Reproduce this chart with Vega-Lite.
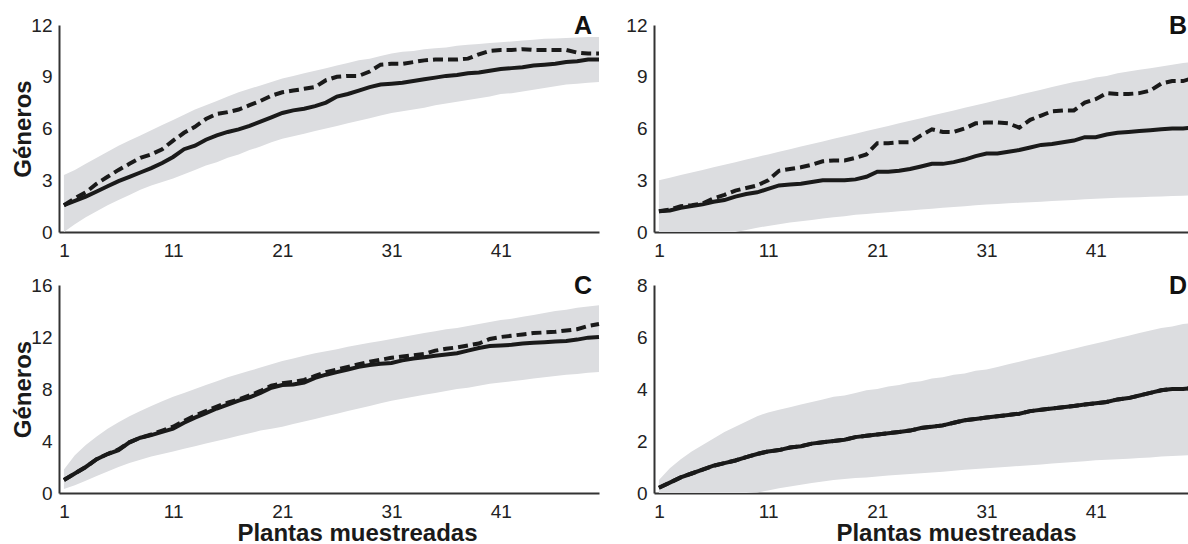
{
"$schema": "https://vega.github.io/schema/vega-lite/v6.json",
"padding": {"left": 11, "top": 14, "right": 0, "bottom": 0},
"background": "white",
"config": {
  "view": {"stroke": null},
  "axis": {"domainColor": "#333333", "domainWidth": 2, "ticks": false, "grid": false, "labelFont": "Liberation Sans", "labelFontSize": 19, "labelColor": "#222222", "titleFont": "Liberation Sans", "titleFontSize": 24, "titleFontWeight": "bold", "titleColor": "#1a1a1a"},
  "axisY": {"labelPadding": 7},
  "axisX": {"labelPadding": 9},
  "title": {"font": "Liberation Sans", "fontSize": 25, "fontWeight": "bold", "color": "#111111", "anchor": "end", "frame": "group", "baseline": "alphabetic", "offset": -23, "dx": -7}
},
"data": {"values": [
{"p":"A","n":1,"lo":0,"hi":3.3,"obs":1.55,"est":1.55},
{"p":"A","n":2,"lo":0.45,"hi":3.6,"obs":1.8,"est":1.95},
{"p":"A","n":3,"lo":0.85,"hi":3.95,"obs":2.05,"est":2.3},
{"p":"A","n":4,"lo":1.2,"hi":4.3,"obs":2.35,"est":2.8},
{"p":"A","n":5,"lo":1.55,"hi":4.65,"obs":2.65,"est":3.2},
{"p":"A","n":6,"lo":1.85,"hi":5.0,"obs":2.95,"est":3.6},
{"p":"A","n":7,"lo":2.15,"hi":5.3,"obs":3.2,"est":3.95},
{"p":"A","n":8,"lo":2.45,"hi":5.6,"obs":3.45,"est":4.3},
{"p":"A","n":9,"lo":2.7,"hi":5.9,"obs":3.7,"est":4.5},
{"p":"A","n":10,"lo":2.9,"hi":6.2,"obs":4.0,"est":4.8},
{"p":"A","n":11,"lo":3.1,"hi":6.5,"obs":4.35,"est":5.3},
{"p":"A","n":12,"lo":3.35,"hi":6.8,"obs":4.8,"est":5.75},
{"p":"A","n":13,"lo":3.6,"hi":7.1,"obs":5.0,"est":6.1},
{"p":"A","n":14,"lo":3.85,"hi":7.35,"obs":5.35,"est":6.55},
{"p":"A","n":15,"lo":4.05,"hi":7.6,"obs":5.6,"est":6.85},
{"p":"A","n":16,"lo":4.3,"hi":7.85,"obs":5.8,"est":6.95},
{"p":"A","n":17,"lo":4.5,"hi":8.1,"obs":5.95,"est":7.1},
{"p":"A","n":18,"lo":4.75,"hi":8.3,"obs":6.15,"est":7.35},
{"p":"A","n":19,"lo":4.95,"hi":8.5,"obs":6.4,"est":7.6},
{"p":"A","n":20,"lo":5.2,"hi":8.7,"obs":6.65,"est":7.9},
{"p":"A","n":21,"lo":5.4,"hi":8.9,"obs":6.9,"est":8.1},
{"p":"A","n":22,"lo":5.55,"hi":9.05,"obs":7.05,"est":8.2},
{"p":"A","n":23,"lo":5.7,"hi":9.2,"obs":7.15,"est":8.3},
{"p":"A","n":24,"lo":5.85,"hi":9.35,"obs":7.3,"est":8.4},
{"p":"A","n":25,"lo":6.0,"hi":9.5,"obs":7.5,"est":8.8},
{"p":"A","n":26,"lo":6.15,"hi":9.65,"obs":7.85,"est":9.0},
{"p":"A","n":27,"lo":6.3,"hi":9.8,"obs":8.0,"est":9.05},
{"p":"A","n":28,"lo":6.45,"hi":9.95,"obs":8.2,"est":9.05},
{"p":"A","n":29,"lo":6.6,"hi":10.05,"obs":8.4,"est":9.3},
{"p":"A","n":30,"lo":6.75,"hi":10.2,"obs":8.55,"est":9.7},
{"p":"A","n":31,"lo":6.9,"hi":10.35,"obs":8.6,"est":9.75},
{"p":"A","n":32,"lo":7.0,"hi":10.45,"obs":8.65,"est":9.75},
{"p":"A","n":33,"lo":7.1,"hi":10.5,"obs":8.75,"est":9.85},
{"p":"A","n":34,"lo":7.2,"hi":10.6,"obs":8.85,"est":9.95},
{"p":"A","n":35,"lo":7.35,"hi":10.65,"obs":8.95,"est":10.0},
{"p":"A","n":36,"lo":7.45,"hi":10.7,"obs":9.05,"est":10.0},
{"p":"A","n":37,"lo":7.55,"hi":10.8,"obs":9.1,"est":10.0},
{"p":"A","n":38,"lo":7.65,"hi":10.85,"obs":9.2,"est":10.05},
{"p":"A","n":39,"lo":7.75,"hi":10.9,"obs":9.25,"est":10.3},
{"p":"A","n":40,"lo":7.85,"hi":10.95,"obs":9.35,"est":10.5},
{"p":"A","n":41,"lo":8.0,"hi":11.0,"obs":9.45,"est":10.55},
{"p":"A","n":42,"lo":8.05,"hi":11.05,"obs":9.5,"est":10.55},
{"p":"A","n":43,"lo":8.15,"hi":11.1,"obs":9.55,"est":10.6},
{"p":"A","n":44,"lo":8.25,"hi":11.15,"obs":9.65,"est":10.55},
{"p":"A","n":45,"lo":8.35,"hi":11.2,"obs":9.7,"est":10.55},
{"p":"A","n":46,"lo":8.45,"hi":11.22,"obs":9.75,"est":10.55},
{"p":"A","n":47,"lo":8.55,"hi":11.25,"obs":9.85,"est":10.55},
{"p":"A","n":48,"lo":8.6,"hi":11.28,"obs":9.9,"est":10.4},
{"p":"A","n":49,"lo":8.65,"hi":11.3,"obs":10.0,"est":10.35},
{"p":"A","n":50,"lo":8.7,"hi":11.3,"obs":10.0,"est":10.35},
{"p":"B","n":1,"lo":0,"hi":3.0,"obs":1.2,"est":1.2},
{"p":"B","n":2,"lo":0,"hi":3.15,"obs":1.25,"est":1.3},
{"p":"B","n":3,"lo":0,"hi":3.3,"obs":1.4,"est":1.5},
{"p":"B","n":4,"lo":0,"hi":3.45,"obs":1.5,"est":1.55},
{"p":"B","n":5,"lo":0,"hi":3.6,"obs":1.6,"est":1.65},
{"p":"B","n":6,"lo":0,"hi":3.75,"obs":1.75,"est":1.95},
{"p":"B","n":7,"lo":0,"hi":3.9,"obs":1.85,"est":2.15},
{"p":"B","n":8,"lo":0,"hi":4.05,"obs":2.05,"est":2.4},
{"p":"B","n":9,"lo":0.12,"hi":4.2,"obs":2.2,"est":2.55},
{"p":"B","n":10,"lo":0.25,"hi":4.35,"obs":2.3,"est":2.7},
{"p":"B","n":11,"lo":0.35,"hi":4.5,"obs":2.5,"est":3.0},
{"p":"B","n":12,"lo":0.45,"hi":4.65,"obs":2.7,"est":3.55},
{"p":"B","n":13,"lo":0.55,"hi":4.8,"obs":2.75,"est":3.65},
{"p":"B","n":14,"lo":0.62,"hi":4.95,"obs":2.8,"est":3.75},
{"p":"B","n":15,"lo":0.7,"hi":5.1,"obs":2.9,"est":3.9},
{"p":"B","n":16,"lo":0.78,"hi":5.25,"obs":3.0,"est":4.1},
{"p":"B","n":17,"lo":0.85,"hi":5.4,"obs":3.0,"est":4.15},
{"p":"B","n":18,"lo":0.92,"hi":5.55,"obs":3.0,"est":4.15},
{"p":"B","n":19,"lo":1.0,"hi":5.7,"obs":3.05,"est":4.3},
{"p":"B","n":20,"lo":1.05,"hi":5.85,"obs":3.2,"est":4.5},
{"p":"B","n":21,"lo":1.1,"hi":6.0,"obs":3.5,"est":5.15},
{"p":"B","n":22,"lo":1.15,"hi":6.15,"obs":3.5,"est":5.15},
{"p":"B","n":23,"lo":1.2,"hi":6.3,"obs":3.55,"est":5.2},
{"p":"B","n":24,"lo":1.25,"hi":6.45,"obs":3.65,"est":5.2},
{"p":"B","n":25,"lo":1.3,"hi":6.6,"obs":3.8,"est":5.6},
{"p":"B","n":26,"lo":1.35,"hi":6.75,"obs":3.95,"est":5.95},
{"p":"B","n":27,"lo":1.4,"hi":6.9,"obs":3.95,"est":5.8},
{"p":"B","n":28,"lo":1.45,"hi":7.05,"obs":4.05,"est":5.8},
{"p":"B","n":29,"lo":1.5,"hi":7.2,"obs":4.2,"est":6.0},
{"p":"B","n":30,"lo":1.55,"hi":7.35,"obs":4.4,"est":6.3},
{"p":"B","n":31,"lo":1.6,"hi":7.5,"obs":4.55,"est":6.35},
{"p":"B","n":32,"lo":1.63,"hi":7.65,"obs":4.55,"est":6.35},
{"p":"B","n":33,"lo":1.66,"hi":7.8,"obs":4.65,"est":6.3},
{"p":"B","n":34,"lo":1.7,"hi":7.95,"obs":4.75,"est":6.05},
{"p":"B","n":35,"lo":1.73,"hi":8.1,"obs":4.9,"est":6.5},
{"p":"B","n":36,"lo":1.76,"hi":8.25,"obs":5.05,"est":6.75},
{"p":"B","n":37,"lo":1.8,"hi":8.4,"obs":5.1,"est":7.0},
{"p":"B","n":38,"lo":1.83,"hi":8.55,"obs":5.2,"est":7.05},
{"p":"B","n":39,"lo":1.86,"hi":8.7,"obs":5.3,"est":7.05},
{"p":"B","n":40,"lo":1.9,"hi":8.8,"obs":5.5,"est":7.5},
{"p":"B","n":41,"lo":1.93,"hi":8.95,"obs":5.5,"est":7.7},
{"p":"B","n":42,"lo":1.96,"hi":9.05,"obs":5.65,"est":8.05},
{"p":"B","n":43,"lo":1.98,"hi":9.2,"obs":5.75,"est":8.0},
{"p":"B","n":44,"lo":2.0,"hi":9.3,"obs":5.8,"est":8.0},
{"p":"B","n":45,"lo":2.02,"hi":9.4,"obs":5.85,"est":8.05},
{"p":"B","n":46,"lo":2.04,"hi":9.5,"obs":5.9,"est":8.2},
{"p":"B","n":47,"lo":2.06,"hi":9.6,"obs":5.95,"est":8.6},
{"p":"B","n":48,"lo":2.08,"hi":9.7,"obs":6.0,"est":8.75},
{"p":"B","n":49,"lo":2.1,"hi":9.8,"obs":6.0,"est":8.75},
{"p":"B","n":50,"lo":2.12,"hi":9.85,"obs":6.05,"est":8.95},
{"p":"C","n":1,"lo":0.3,"hi":1.8,"obs":1.0,"est":1.0},
{"p":"C","n":2,"lo":0.6,"hi":2.9,"obs":1.5,"est":1.5},
{"p":"C","n":3,"lo":0.95,"hi":3.7,"obs":2.0,"est":2.0},
{"p":"C","n":4,"lo":1.3,"hi":4.35,"obs":2.6,"est":2.6},
{"p":"C","n":5,"lo":1.65,"hi":4.95,"obs":3.0,"est":3.0},
{"p":"C","n":6,"lo":2.0,"hi":5.45,"obs":3.3,"est":3.35},
{"p":"C","n":7,"lo":2.3,"hi":5.9,"obs":3.9,"est":3.9},
{"p":"C","n":8,"lo":2.55,"hi":6.3,"obs":4.25,"est":4.25},
{"p":"C","n":9,"lo":2.8,"hi":6.7,"obs":4.45,"est":4.5},
{"p":"C","n":10,"lo":3.0,"hi":7.05,"obs":4.7,"est":4.8},
{"p":"C","n":11,"lo":3.2,"hi":7.4,"obs":4.95,"est":5.1},
{"p":"C","n":12,"lo":3.4,"hi":7.7,"obs":5.4,"est":5.55},
{"p":"C","n":13,"lo":3.6,"hi":8.0,"obs":5.8,"est":5.95},
{"p":"C","n":14,"lo":3.8,"hi":8.3,"obs":6.15,"est":6.3},
{"p":"C","n":15,"lo":4.0,"hi":8.6,"obs":6.5,"est":6.65},
{"p":"C","n":16,"lo":4.2,"hi":8.9,"obs":6.8,"est":6.95},
{"p":"C","n":17,"lo":4.4,"hi":9.15,"obs":7.1,"est":7.2},
{"p":"C","n":18,"lo":4.6,"hi":9.4,"obs":7.35,"est":7.5},
{"p":"C","n":19,"lo":4.8,"hi":9.65,"obs":7.7,"est":7.85},
{"p":"C","n":20,"lo":4.95,"hi":9.9,"obs":8.1,"est":8.25},
{"p":"C","n":21,"lo":5.1,"hi":10.15,"obs":8.3,"est":8.45},
{"p":"C","n":22,"lo":5.3,"hi":10.35,"obs":8.35,"est":8.55},
{"p":"C","n":23,"lo":5.5,"hi":10.55,"obs":8.5,"est":8.7},
{"p":"C","n":24,"lo":5.7,"hi":10.75,"obs":8.85,"est":9.0},
{"p":"C","n":25,"lo":5.9,"hi":10.9,"obs":9.1,"est":9.3},
{"p":"C","n":26,"lo":6.1,"hi":11.05,"obs":9.3,"est":9.5},
{"p":"C","n":27,"lo":6.3,"hi":11.25,"obs":9.5,"est":9.7},
{"p":"C","n":28,"lo":6.5,"hi":11.4,"obs":9.7,"est":9.9},
{"p":"C","n":29,"lo":6.7,"hi":11.55,"obs":9.85,"est":10.1},
{"p":"C","n":30,"lo":6.9,"hi":11.7,"obs":9.95,"est":10.25},
{"p":"C","n":31,"lo":7.1,"hi":11.85,"obs":10.0,"est":10.4},
{"p":"C","n":32,"lo":7.25,"hi":12.0,"obs":10.2,"est":10.5},
{"p":"C","n":33,"lo":7.4,"hi":12.15,"obs":10.35,"est":10.6},
{"p":"C","n":34,"lo":7.55,"hi":12.3,"obs":10.45,"est":10.7},
{"p":"C","n":35,"lo":7.7,"hi":12.45,"obs":10.55,"est":10.95},
{"p":"C","n":36,"lo":7.85,"hi":12.6,"obs":10.65,"est":11.1},
{"p":"C","n":37,"lo":8.0,"hi":12.7,"obs":10.75,"est":11.2},
{"p":"C","n":38,"lo":8.1,"hi":12.85,"obs":10.95,"est":11.35},
{"p":"C","n":39,"lo":8.25,"hi":13.0,"obs":11.15,"est":11.5},
{"p":"C","n":40,"lo":8.4,"hi":13.15,"obs":11.3,"est":11.85},
{"p":"C","n":41,"lo":8.5,"hi":13.3,"obs":11.35,"est":12.0},
{"p":"C","n":42,"lo":8.6,"hi":13.4,"obs":11.4,"est":12.1},
{"p":"C","n":43,"lo":8.7,"hi":13.55,"obs":11.5,"est":12.2},
{"p":"C","n":44,"lo":8.8,"hi":13.7,"obs":11.55,"est":12.3},
{"p":"C","n":45,"lo":8.9,"hi":13.85,"obs":11.6,"est":12.35},
{"p":"C","n":46,"lo":9.0,"hi":14.0,"obs":11.65,"est":12.4},
{"p":"C","n":47,"lo":9.1,"hi":14.1,"obs":11.7,"est":12.5},
{"p":"C","n":48,"lo":9.15,"hi":14.25,"obs":11.8,"est":12.6},
{"p":"C","n":49,"lo":9.25,"hi":14.35,"obs":11.95,"est":12.85},
{"p":"C","n":50,"lo":9.3,"hi":14.45,"obs":12.0,"est":13.0},
{"p":"D","n":1,"lo":0,"hi":0.5,"obs":0.2,"est":0.2},
{"p":"D","n":2,"lo":0,"hi":0.95,"obs":0.4,"est":0.4},
{"p":"D","n":3,"lo":0,"hi":1.3,"obs":0.6,"est":0.6},
{"p":"D","n":4,"lo":0,"hi":1.6,"obs":0.75,"est":0.75},
{"p":"D","n":5,"lo":0,"hi":1.85,"obs":0.9,"est":0.9},
{"p":"D","n":6,"lo":0,"hi":2.1,"obs":1.05,"est":1.05},
{"p":"D","n":7,"lo":0,"hi":2.35,"obs":1.15,"est":1.15},
{"p":"D","n":8,"lo":0,"hi":2.55,"obs":1.25,"est":1.25},
{"p":"D","n":9,"lo":0,"hi":2.75,"obs":1.38,"est":1.38},
{"p":"D","n":10,"lo":0.02,"hi":2.95,"obs":1.5,"est":1.5},
{"p":"D","n":11,"lo":0.1,"hi":3.1,"obs":1.6,"est":1.6},
{"p":"D","n":12,"lo":0.18,"hi":3.2,"obs":1.65,"est":1.65},
{"p":"D","n":13,"lo":0.25,"hi":3.3,"obs":1.75,"est":1.75},
{"p":"D","n":14,"lo":0.32,"hi":3.4,"obs":1.8,"est":1.8},
{"p":"D","n":15,"lo":0.38,"hi":3.5,"obs":1.9,"est":1.9},
{"p":"D","n":16,"lo":0.44,"hi":3.6,"obs":1.95,"est":1.95},
{"p":"D","n":17,"lo":0.5,"hi":3.7,"obs":2.0,"est":2.0},
{"p":"D","n":18,"lo":0.54,"hi":3.75,"obs":2.05,"est":2.05},
{"p":"D","n":19,"lo":0.58,"hi":3.85,"obs":2.15,"est":2.15},
{"p":"D","n":20,"lo":0.6,"hi":3.95,"obs":2.2,"est":2.2},
{"p":"D","n":21,"lo":0.63,"hi":4.0,"obs":2.25,"est":2.25},
{"p":"D","n":22,"lo":0.67,"hi":4.1,"obs":2.3,"est":2.3},
{"p":"D","n":23,"lo":0.7,"hi":4.15,"obs":2.35,"est":2.35},
{"p":"D","n":24,"lo":0.73,"hi":4.25,"obs":2.4,"est":2.4},
{"p":"D","n":25,"lo":0.76,"hi":4.3,"obs":2.5,"est":2.5},
{"p":"D","n":26,"lo":0.79,"hi":4.4,"obs":2.55,"est":2.55},
{"p":"D","n":27,"lo":0.82,"hi":4.45,"obs":2.6,"est":2.6},
{"p":"D","n":28,"lo":0.86,"hi":4.55,"obs":2.7,"est":2.7},
{"p":"D","n":29,"lo":0.89,"hi":4.6,"obs":2.8,"est":2.8},
{"p":"D","n":30,"lo":0.92,"hi":4.7,"obs":2.85,"est":2.85},
{"p":"D","n":31,"lo":0.95,"hi":4.75,"obs":2.9,"est":2.9},
{"p":"D","n":32,"lo":0.98,"hi":4.85,"obs":2.95,"est":2.95},
{"p":"D","n":33,"lo":1.01,"hi":4.95,"obs":3.0,"est":3.0},
{"p":"D","n":34,"lo":1.04,"hi":5.05,"obs":3.05,"est":3.05},
{"p":"D","n":35,"lo":1.07,"hi":5.15,"obs":3.15,"est":3.15},
{"p":"D","n":36,"lo":1.1,"hi":5.25,"obs":3.2,"est":3.2},
{"p":"D","n":37,"lo":1.13,"hi":5.35,"obs":3.25,"est":3.25},
{"p":"D","n":38,"lo":1.16,"hi":5.45,"obs":3.3,"est":3.3},
{"p":"D","n":39,"lo":1.19,"hi":5.55,"obs":3.35,"est":3.35},
{"p":"D","n":40,"lo":1.22,"hi":5.65,"obs":3.4,"est":3.4},
{"p":"D","n":41,"lo":1.26,"hi":5.75,"obs":3.45,"est":3.45},
{"p":"D","n":42,"lo":1.28,"hi":5.85,"obs":3.5,"est":3.5},
{"p":"D","n":43,"lo":1.3,"hi":5.95,"obs":3.6,"est":3.6},
{"p":"D","n":44,"lo":1.32,"hi":6.05,"obs":3.65,"est":3.65},
{"p":"D","n":45,"lo":1.35,"hi":6.15,"obs":3.75,"est":3.75},
{"p":"D","n":46,"lo":1.37,"hi":6.25,"obs":3.85,"est":3.85},
{"p":"D","n":47,"lo":1.4,"hi":6.35,"obs":3.95,"est":3.95},
{"p":"D","n":48,"lo":1.42,"hi":6.4,"obs":4.0,"est":4.0},
{"p":"D","n":49,"lo":1.44,"hi":6.5,"obs":4.0,"est":4.0},
{"p":"D","n":50,"lo":1.46,"hi":6.55,"obs":4.05,"est":4.05}
]},
"columns": 2,
"spacing": {"row": 14, "column": 18},
"concat": [
{
  "width": 540, "height": 207,
  "title": {"text": "A"},
  "transform": [{"filter": "datum.p == 'A'"}],
  "encoding": {"x": {"field": "n", "type": "quantitative", "scale": {"domain": [0.55, 50], "nice": false, "zero": false}, "axis": {"values": [1, 11, 21, 31, 41], "title": null}}},
  "layer": [
    {"mark": {"type": "area", "color": "#dcdde0", "clip": true}, "encoding": {"y": {"field": "lo", "type": "quantitative", "scale": {"domain": [0, 12], "nice": false}, "axis": {"values": [0, 3, 6, 9, 12], "title": "Géneros", "titleX": -29, "titleBaseline": "alphabetic"}}, "y2": {"field": "hi"}}},
    {"mark": {"type": "line", "color": "#1a1a1a", "strokeWidth": 4}, "encoding": {"y": {"field": "obs", "type": "quantitative", "title": "Géneros"}}},
    {"mark": {"type": "line", "color": "#1a1a1a", "strokeWidth": 4, "strokeDash": [10, 5]}, "encoding": {"y": {"field": "est", "type": "quantitative", "title": "Géneros"}}}
  ]
},
{
  "width": 540, "height": 207,
  "title": {"text": "B"},
  "transform": [{"filter": "datum.p == 'B'"}],
  "encoding": {"x": {"field": "n", "type": "quantitative", "scale": {"domain": [0.55, 50], "nice": false, "zero": false}, "axis": {"values": [1, 11, 21, 31, 41], "title": null}}},
  "layer": [
    {"mark": {"type": "area", "color": "#dcdde0", "clip": true}, "encoding": {"y": {"field": "lo", "type": "quantitative", "scale": {"domain": [0, 12], "nice": false}, "axis": {"values": [0, 3, 6, 9, 12], "title": null}}, "y2": {"field": "hi"}}},
    {"mark": {"type": "line", "color": "#1a1a1a", "strokeWidth": 4}, "encoding": {"y": {"field": "obs", "type": "quantitative", "title": null}}},
    {"mark": {"type": "line", "color": "#1a1a1a", "strokeWidth": 4, "strokeDash": [10, 5]}, "encoding": {"y": {"field": "est", "type": "quantitative", "title": null}}}
  ]
},
{
  "width": 540, "height": 208,
  "title": {"text": "C"},
  "transform": [{"filter": "datum.p == 'C'"}],
  "encoding": {"x": {"field": "n", "type": "quantitative", "scale": {"domain": [0.55, 50], "nice": false, "zero": false}, "axis": {"values": [1, 11, 21, 31, 41], "title": "Plantas muestreadas", "titleX": 298, "titleY": 47, "titleBaseline": "alphabetic"}}},
  "layer": [
    {"mark": {"type": "area", "color": "#dcdde0", "clip": true}, "encoding": {"y": {"field": "lo", "type": "quantitative", "scale": {"domain": [0, 16], "nice": false}, "axis": {"values": [0, 4, 8, 12, 16], "title": "Géneros", "titleX": -29, "titleBaseline": "alphabetic"}}, "y2": {"field": "hi"}}},
    {"mark": {"type": "line", "color": "#1a1a1a", "strokeWidth": 4}, "encoding": {"y": {"field": "obs", "type": "quantitative", "title": "Géneros"}}},
    {"mark": {"type": "line", "color": "#1a1a1a", "strokeWidth": 4, "strokeDash": [10, 5]}, "encoding": {"y": {"field": "est", "type": "quantitative", "title": "Géneros"}}}
  ]
},
{
  "width": 540, "height": 208,
  "title": {"text": "D"},
  "transform": [{"filter": "datum.p == 'D'"}],
  "encoding": {"x": {"field": "n", "type": "quantitative", "scale": {"domain": [0.55, 50], "nice": false, "zero": false}, "axis": {"values": [1, 11, 21, 31, 41], "title": "Plantas muestreadas", "titleX": 302, "titleY": 47, "titleBaseline": "alphabetic"}}},
  "layer": [
    {"mark": {"type": "area", "color": "#dcdde0", "clip": true}, "encoding": {"y": {"field": "lo", "type": "quantitative", "scale": {"domain": [0, 8], "nice": false}, "axis": {"values": [0, 2, 4, 6, 8], "title": null}}, "y2": {"field": "hi"}}},
    {"mark": {"type": "line", "color": "#1a1a1a", "strokeWidth": 4}, "encoding": {"y": {"field": "obs", "type": "quantitative", "title": null}}},
    {"mark": {"type": "line", "color": "#1a1a1a", "strokeWidth": 4, "strokeDash": [10, 5]}, "encoding": {"y": {"field": "est", "type": "quantitative", "title": null}}}
  ]
}
]
}
